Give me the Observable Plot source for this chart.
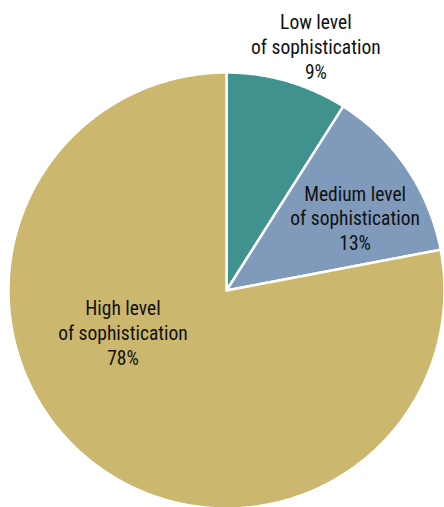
<!DOCTYPE html>
<html>
<head>
<meta charset="utf-8">
<script src="https://cdn.jsdelivr.net/npm/d3@7"></script>
<script src="https://cdn.jsdelivr.net/npm/@observablehq/plot@0.6"></script>
<style>
  html, body { margin: 0; padding: 0; background: #fff; overflow: hidden; }
</style>
</head>
<body>
<div id="chart"></div>
<script>
// Data
const categories = ["Low level\nof sophistication", "Medium level\nof sophistication", "High level\nof sophistication"];
const shares = [9, 13, 78];
const colors = ["#3f928e", "#7f9aba", "#cbb76d"];

// Label placement (in pie-radius units, relative to pie centre)
const labelPos = [[0.41, 1.12], [0.59, 0.335], [-0.475, -0.19]];

// Build slice polygons from data
const total = d3.sum(shares);
const pieData = [];
let start = 0;
shares.forEach((v, i) => {
  const a0 = start / total * 2 * Math.PI;
  const a1 = (start + v) / total * 2 * Math.PI;
  start += v;
  const n = Math.max(2, Math.ceil((a1 - a0) / (Math.PI / 360)));
  pieData.push({ cat: categories[i], x: 0, y: 0 });
  for (let k = 0; k <= n; k++) {
    const a = a0 + (a1 - a0) * k / n;
    pieData.push({ cat: categories[i], x: Math.sin(a), y: Math.cos(a) });
  }
  pieData.push({ cat: categories[i], x: 0, y: 0 });
});

const labels = categories.map((c, i) => ({
  text: c + "\n" + shares[i] + "%",
  x: labelPos[i][0],
  y: labelPos[i][1]
}));

const chart = Plot.plot({
  width: 444,
  height: 508,
  marginLeft: 8,
  marginRight: 0,
  marginTop: 72,
  marginBottom: 0,
  x: { domain: [-1, 1], axis: null },
  y: { domain: [-1, 1], axis: null },
  color: { domain: categories, range: colors },
  style: { fontFamily: "'Roboto Condensed', 'Liberation Sans Narrow', Roboto, sans-serif", background: "#fff", overflow: "visible" },
  marks: [
    Plot.line(pieData, { x: "x", y: "y", z: "cat", fill: "cat", stroke: "#fff", strokeWidth: 2.5, strokeLinejoin: "round", curve: "linear" }),
    Plot.text(labels, { x: "x", y: "y", text: "text", fontSize: 19.5, lineHeight: 1.28, fill: "#111", textAnchor: "middle" })
  ]
});
document.getElementById("chart").appendChild(chart);
</script>
</body>
</html>
